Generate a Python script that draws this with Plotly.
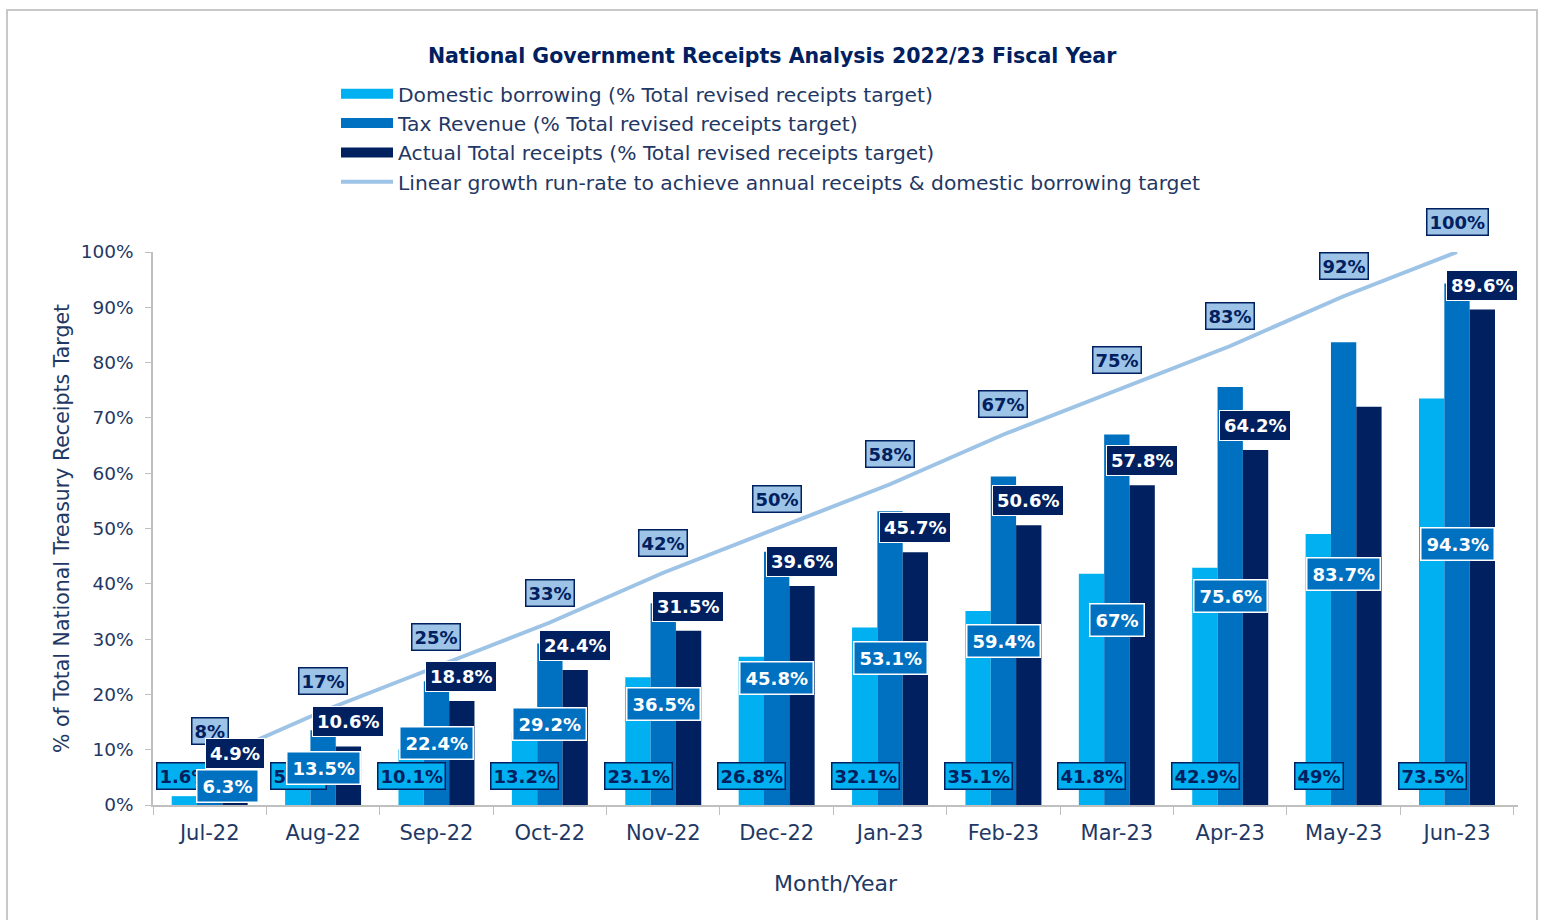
import plotly.graph_objects as go

# Monthly receipts as % of the total revised receipts target, FY 2022/23
months = ["Jul-22", "Aug-22", "Sep-22", "Oct-22", "Nov-22", "Dec-22",
          "Jan-23", "Feb-23", "Mar-23", "Apr-23", "May-23", "Jun-23"]
domestic = [1.6, 5.3, 10.1, 13.2, 23.1, 26.8, 32.1, 35.1, 41.8, 42.9, 49.0, 73.5]
tax = [6.3, 13.5, 22.4, 29.2, 36.5, 45.8, 53.1, 59.4, 67.0, 75.6, 83.7, 94.3]
actual = [4.9, 10.6, 18.8, 24.4, 31.5, 39.6, 45.7, 50.6, 57.8, 64.2, 72.0, 89.6]
actual_labelled = [True] * 10 + [False, True]
runrate = [8, 17, 25, 33, 42, 50, 58, 67, 75, 83, 92, 100]

names = [
    "Domestic borrowing (% Total revised receipts target)",
    "Tax Revenue (% Total revised receipts target)",
    "Actual Total receipts (% Total revised receipts target)",
    "Linear growth run-rate to achieve annual receipts & domestic borrowing target",
]

C_DOM = "#00B0F0"
C_TAX = "#0070C0"
C_ACT = "#002060"
C_RUN = "#9DC3E6"
NAVY = "#1F3864"
FONT = "DejaVu Sans"

fig = go.Figure()
for vals, col in [(domestic, C_DOM), (tax, C_TAX), (actual, C_ACT)]:
    fig.add_trace(go.Bar(x=months, y=vals, marker=dict(color=col, line_width=0),
                         showlegend=False, hoverinfo="skip"))
fig.add_trace(go.Scatter(x=months, y=runrate, mode="lines",
                         line=dict(color=C_RUN, width=4), showlegend=False,
                         hoverinfo="skip"))

# Legend entries drawn as wide swatches
for name, col, w in zip(names, [C_DOM, C_TAX, C_ACT, C_RUN], [12, 12, 12, 4]):
    fig.add_trace(go.Scatter(x=[None], y=[None], mode="lines", name=name,
                             line=dict(color=col, width=w)))


def pct(v):
    return f"{v:g}%"


ann = []
lab_font = dict(family=FONT, size=18)
# Domestic borrowing labels, at the base of each bar
for m, v in zip(months, domestic):
    ann.append(dict(x=m, y=0, xshift=-25, yshift=15, yanchor="bottom",
                    text=f"<b>{pct(v)}</b>", showarrow=False,
                    font=dict(lab_font, color=C_ACT), bgcolor=C_DOM,
                    bordercolor=C_ACT, borderwidth=1.5, borderpad=2))
# Run-rate labels above the line
for m, v in zip(months, runrate):
    ann.append(dict(x=m, y=v, yshift=16, yanchor="bottom",
                    text=f"<b>{pct(v)}</b>", showarrow=False,
                    font=dict(lab_font, color=C_ACT), bgcolor=C_RUN,
                    bordercolor=C_ACT, borderwidth=1.5, borderpad=2))
# Actual total receipts labels above the bars
for m, v, show in zip(months, actual, actual_labelled):
    if not show:
        continue
    ann.append(dict(x=m, y=v, xshift=25, yshift=9, yanchor="bottom",
                    text=f"<b>{pct(v)}</b>", showarrow=False,
                    font=dict(lab_font, color="white"), bgcolor=C_ACT,
                    bordercolor="white", borderwidth=1, borderpad=4))
# Tax revenue labels in the middle of the bars
for i, (m, v) in enumerate(zip(months, tax)):
    ann.append(dict(x=m, y=v / 2, yanchor="middle", xshift=18 if i == 0 else 0,
                    yshift=2 if i == 0 else 0,
                    text=f"<b>{pct(v)}</b>", showarrow=False,
                    font=dict(lab_font, color="white"), bgcolor=C_TAX,
                    bordercolor="white", borderwidth=1.5, borderpad=5))

fig.update_layout(
    width=1542, height=920,
    margin=dict(l=153, r=24, t=252, b=115),
    paper_bgcolor="white", plot_bgcolor="white",
    font=dict(family=FONT, color=NAVY),
    barmode="group", bargap=0.33, bargroupgap=0,
    title=dict(text="<b>National Government Receipts Analysis 2022/23 Fiscal Year</b>",
               x=0.5007, xanchor="center", y=1 - 56 / 920, yanchor="middle",
               font=dict(family=FONT, size=20.5, color=C_ACT)),
    legend=dict(x=(336 - 153) / 1365, y=(805 - 74) / 553, xanchor="left", yanchor="top",
                font=dict(family=FONT, size=20.3, color=NAVY),
                itemwidth=52, bgcolor="rgba(0,0,0,0)", tracegroupgap=0),
    xaxis=dict(type="category", showline=True, linecolor="#BFBFBF", linewidth=1.5,
               ticks="outside", tickson="boundaries", ticklen=8, tickcolor="#BFBFBF",
               ticklabelstandoff=8,
               tickfont=dict(size=21, color=NAVY), showgrid=False,
               title=dict(text="Month/Year", font=dict(size=22, color=NAVY), standoff=32)),
    yaxis=dict(range=[0, 100], dtick=10, ticksuffix="%", showline=True,
               linecolor="#BFBFBF", linewidth=1.5, ticks="outside", ticklen=6,
               tickcolor="#BFBFBF", showgrid=False, zeroline=False,
               ticklabelstandoff=8,
               tickfont=dict(size=18.5, color=NAVY),
               title=dict(text="% of Total National Treasury Receipts Target",
                          font=dict(size=20.5, color=NAVY), standoff=5)),
    annotations=ann,
    shapes=[dict(type="rect", xref="paper", yref="paper",
                 x0=(7 - 153) / 1365, x1=(1537 - 153) / 1365,
                 y0=(805 - 930) / 553, y1=(805 - 10) / 553,
                 line=dict(color="#C8C8C8", width=2), fillcolor="rgba(0,0,0,0)",
                 layer="below")],
)

fig.write_html("out.html")
